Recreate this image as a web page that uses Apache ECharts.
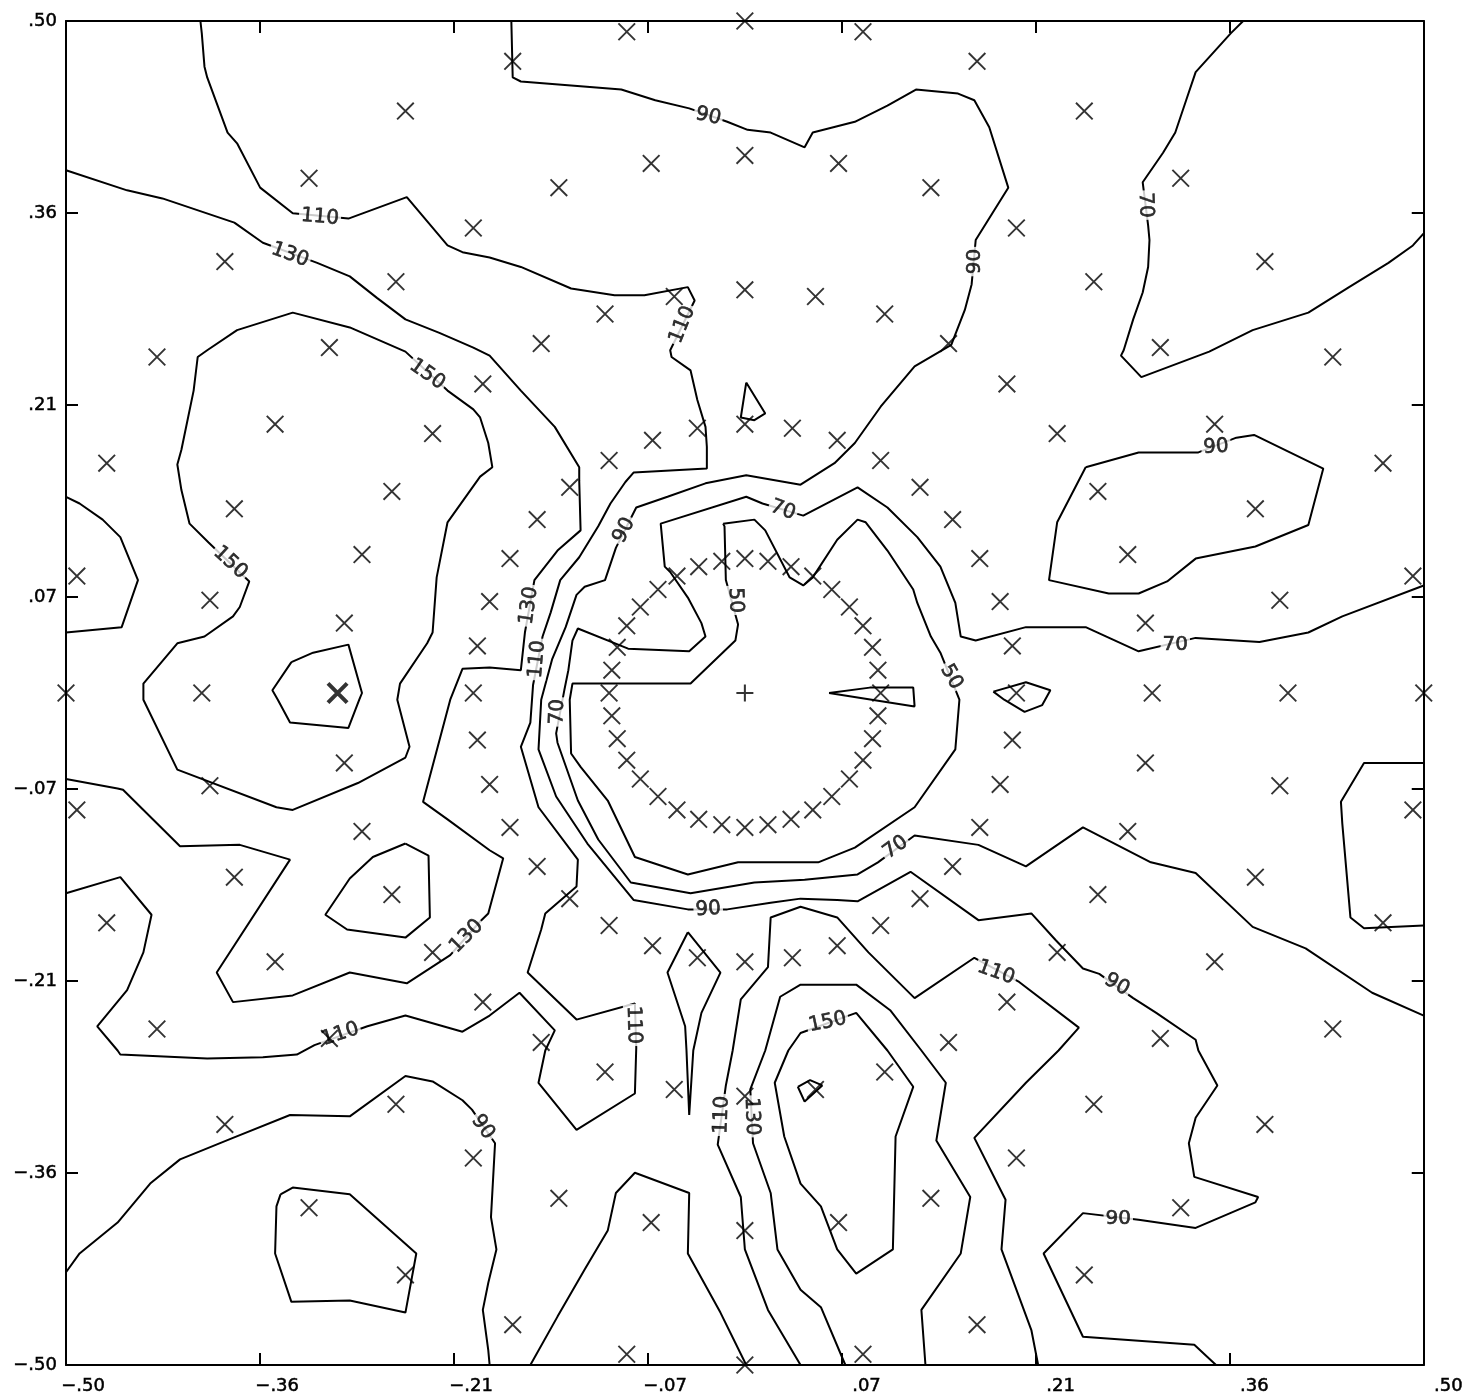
<!DOCTYPE html>
<html>
<head>
<meta charset="utf-8">
<script src="https://cdn.jsdelivr.net/npm/echarts@6/dist/echarts.min.js"></script>
<style>
  html, body { margin: 0; padding: 0; background: #fff; }
  #chart { width: 1466px; height: 1399px; }
</style>
</head>
<body>
<div id="chart"></div>
<script>
// axis ticks (steps of 1/7) and their printed labels
const tickValues = [-0.5, -0.3571, -0.2143, -0.0714, 0.0714, 0.2143, 0.3571, 0.5];
const tickLabels = ['\u2212.50', '\u2212.36', '\u2212.21', '\u2212.07', '.07', '.21', '.36', '.50'];

// sample points: five rings of 36 points, every 10 degrees
const ring1 = [[0.1,0],[0.098,0.017],[0.094,0.034],[0.087,0.05],[0.077,0.064],[0.064,0.077],[0.05,0.087],[0.034,0.094],[0.017,0.098],[0,0.1],[-0.017,0.098],[-0.034,0.094],[-0.05,0.087],[-0.064,0.077],[-0.077,0.064],[-0.087,0.05],[-0.094,0.034],[-0.098,0.017],[-0.1,0],[-0.098,-0.017],[-0.094,-0.034],[-0.087,-0.05],[-0.077,-0.064],[-0.064,-0.077],[-0.05,-0.087],[-0.034,-0.094],[-0.017,-0.098],[0,-0.1],[0.017,-0.098],[0.034,-0.094],[0.05,-0.087],[0.064,-0.077],[0.077,-0.064],[0.087,-0.05],[0.094,-0.034],[0.098,-0.017]];
const ring2 = [[0.2,0],[0.197,0.035],[0.188,0.068],[0.173,0.1],[0.153,0.129],[0.129,0.153],[0.1,0.173],[0.068,0.188],[0.035,0.197],[0,0.2],[-0.035,0.197],[-0.068,0.188],[-0.1,0.173],[-0.129,0.153],[-0.153,0.129],[-0.173,0.1],[-0.188,0.068],[-0.197,0.035],[-0.2,0],[-0.197,-0.035],[-0.188,-0.068],[-0.173,-0.1],[-0.153,-0.129],[-0.129,-0.153],[-0.1,-0.173],[-0.068,-0.188],[-0.035,-0.197],[0,-0.2],[0.035,-0.197],[0.068,-0.188],[0.1,-0.173],[0.129,-0.153],[0.153,-0.129],[0.173,-0.1],[0.188,-0.068],[0.197,-0.035]];
const ring3 = [[0.3,0],[0.295,0.052],[0.282,0.103],[0.26,0.15],[0.23,0.193],[0.193,0.23],[0.15,0.26],[0.103,0.282],[0.052,0.295],[0,0.3],[-0.052,0.295],[-0.103,0.282],[-0.15,0.26],[-0.193,0.23],[-0.23,0.193],[-0.26,0.15],[-0.282,0.103],[-0.295,0.052],[-0.295,-0.052],[-0.282,-0.103],[-0.26,-0.15],[-0.23,-0.193],[-0.193,-0.23],[-0.15,-0.26],[-0.103,-0.282],[-0.052,-0.295],[0,-0.3],[0.052,-0.295],[0.103,-0.282],[0.15,-0.26],[0.193,-0.23],[0.23,-0.193],[0.26,-0.15],[0.282,-0.103],[0.295,-0.052]];
const ring4 = [[0.4,0],[0.394,0.069],[0.376,0.137],[0.346,0.2],[0.306,0.257],[0.257,0.306],[0.2,0.346],[0.137,0.376],[0.069,0.394],[0,0.4],[-0.069,0.394],[-0.137,0.376],[-0.2,0.346],[-0.257,0.306],[-0.306,0.257],[-0.346,0.2],[-0.376,0.137],[-0.394,0.069],[-0.4,0],[-0.394,-0.069],[-0.376,-0.137],[-0.346,-0.2],[-0.306,-0.257],[-0.257,-0.306],[-0.2,-0.346],[-0.137,-0.376],[-0.069,-0.394],[0,-0.4],[0.069,-0.394],[0.137,-0.376],[0.2,-0.346],[0.257,-0.306],[0.306,-0.257],[0.346,-0.2],[0.376,-0.137],[0.394,-0.069]];
const ring5 = [[0.5,0],[0.492,0.087],[0.47,0.171],[0.433,0.25],[0.383,0.321],[0.321,0.383],[0.25,0.433],[0.171,0.47],[0.087,0.492],[0,0.5],[-0.087,0.492],[-0.171,0.47],[-0.25,0.433],[-0.321,0.383],[-0.383,0.321],[-0.433,0.25],[-0.47,0.171],[-0.492,0.087],[-0.5,0],[-0.492,-0.087],[-0.47,-0.171],[-0.433,-0.25],[-0.383,-0.321],[-0.321,-0.383],[-0.25,-0.433],[-0.171,-0.47],[-0.087,-0.492],[0,-0.5],[0.087,-0.492],[0.171,-0.47],[0.25,-0.433],[0.321,-0.383],[0.383,-0.321],[0.433,-0.25],[0.47,-0.171],[0.492,-0.087]];
const boldPoints = [[-0.3, 0]];
const centerPoint = [[0, 0]];

// contour lines (x, y)
const c110 = [[-0.401,0.5],[-0.4,0.491],[-0.398,0.466],[-0.396,0.458],[-0.381,0.417],[-0.374,0.409],[-0.357,0.376],[-0.333,0.357],[-0.292,0.353],[-0.249,0.369],[-0.219,0.333],[-0.208,0.328],[-0.188,0.324],[-0.165,0.317],[-0.128,0.301],[-0.096,0.296],[-0.074,0.296],[-0.042,0.302],[-0.037,0.292],[-0.055,0.255],[-0.054,0.25],[-0.04,0.24],[-0.035,0.218],[-0.029,0.198],[-0.028,0.183],[-0.028,0.167],[-0.082,0.164],[-0.088,0.157],[-0.099,0.141],[-0.108,0.124],[-0.122,0.101],[-0.136,0.084],[-0.143,0.06],[-0.149,0.042],[-0.156,0.006],[-0.158,-0.022],[-0.165,-0.04],[-0.152,-0.085],[-0.123,-0.124],[-0.124,-0.144],[-0.147,-0.164],[-0.15,-0.176],[-0.16,-0.208],[-0.124,-0.243],[-0.081,-0.231],[-0.08,-0.264],[-0.081,-0.298],[-0.124,-0.325],[-0.152,-0.29],[-0.147,-0.266],[-0.14,-0.251],[-0.166,-0.223],[-0.188,-0.24],[-0.208,-0.252],[-0.25,-0.24],[-0.278,-0.248],[-0.317,-0.262],[-0.33,-0.269],[-0.355,-0.271],[-0.396,-0.272],[-0.46,-0.269],[-0.462,-0.266],[-0.477,-0.248],[-0.455,-0.221],[-0.443,-0.193],[-0.437,-0.165],[-0.46,-0.137],[-0.5,-0.149]];
const c130 = [[-0.5,0.389],[-0.455,0.374],[-0.429,0.368],[-0.376,0.35],[-0.355,0.335],[-0.315,0.32],[-0.291,0.31],[-0.271,0.294],[-0.25,0.278],[-0.225,0.268],[-0.2,0.257],[-0.188,0.251],[-0.165,0.225],[-0.14,0.198],[-0.122,0.168],[-0.122,0.158],[-0.121,0.121],[-0.138,0.106],[-0.155,0.084],[-0.162,0.045],[-0.165,0.017],[-0.188,0.019],[-0.208,0.018],[-0.217,-0.005],[-0.237,-0.081],[-0.219,-0.094],[-0.188,-0.117],[-0.178,-0.123],[-0.189,-0.164],[-0.195,-0.17],[-0.217,-0.195],[-0.249,-0.216],[-0.291,-0.208],[-0.333,-0.225],[-0.377,-0.23],[-0.389,-0.208],[-0.335,-0.124],[-0.372,-0.113],[-0.416,-0.114],[-0.458,-0.072],[-0.462,-0.071],[-0.5,-0.064]];
const c150 = [[-0.396,0.255],[-0.374,0.27],[-0.333,0.283],[-0.291,0.272],[-0.25,0.254],[-0.219,0.225],[-0.2,0.211],[-0.195,0.205],[-0.189,0.186],[-0.186,0.168],[-0.195,0.161],[-0.219,0.127],[-0.227,0.086],[-0.23,0.045],[-0.234,0.037],[-0.254,0.007],[-0.256,-0.005],[-0.247,-0.04],[-0.25,-0.048],[-0.285,-0.067],[-0.333,-0.087],[-0.345,-0.085],[-0.418,-0.057],[-0.443,-0.005],[-0.443,0.007],[-0.418,0.037],[-0.398,0.042],[-0.377,0.057],[-0.372,0.064],[-0.365,0.083],[-0.395,0.112],[-0.409,0.126],[-0.415,0.151],[-0.418,0.17],[-0.415,0.181],[-0.406,0.225],[-0.403,0.25],[-0.396,0.255]];
const cBoldLoop = [[-0.334,0.023],[-0.318,0.03],[-0.292,0.036],[-0.282,0],[-0.284,-0.005],[-0.292,-0.026],[-0.335,-0.022],[-0.344,-0.005],[-0.348,0.002],[-0.334,0.023]];
const cLeftEdge = [[-0.5,0.146],[-0.49,0.141],[-0.473,0.129],[-0.46,0.116],[-0.447,0.084],[-0.459,0.049],[-0.5,0.045]];
const cLowLeftLoop = [[-0.25,-0.112],[-0.233,-0.121],[-0.232,-0.167],[-0.25,-0.182],[-0.293,-0.176],[-0.309,-0.165],[-0.291,-0.138],[-0.274,-0.122],[-0.25,-0.112]];
const c90BottomLeft = [[-0.5,-0.431],[-0.49,-0.417],[-0.462,-0.394],[-0.438,-0.365],[-0.416,-0.347],[-0.377,-0.331],[-0.335,-0.314],[-0.291,-0.315],[-0.25,-0.285],[-0.23,-0.289],[-0.208,-0.303],[-0.201,-0.31],[-0.184,-0.335],[-0.187,-0.39],[-0.183,-0.414],[-0.189,-0.439],[-0.193,-0.459],[-0.189,-0.489],[-0.188,-0.5]];
const cCornerLoop = [[-0.342,-0.373],[-0.333,-0.368],[-0.291,-0.373],[-0.242,-0.417],[-0.25,-0.461],[-0.291,-0.452],[-0.334,-0.453],[-0.346,-0.417],[-0.345,-0.382],[-0.342,-0.373]];
const cBottomArch = [[-0.158,-0.5],[-0.138,-0.464],[-0.118,-0.429],[-0.101,-0.4],[-0.095,-0.372],[-0.081,-0.357],[-0.041,-0.372],[-0.042,-0.417],[-0.018,-0.461],[0.001,-0.5]];
const cDagger = [[-0.042,-0.178],[-0.018,-0.208],[-0.032,-0.238],[-0.038,-0.266],[-0.041,-0.314],[-0.043,-0.266],[-0.044,-0.248],[-0.057,-0.208],[-0.042,-0.178]];
const c110Right = [[0.041,-0.5],[0.017,-0.459],[0,-0.414],[-0.003,-0.375],[-0.02,-0.336],[-0.014,-0.292],[-0.009,-0.266],[-0.003,-0.228],[0.017,-0.204],[0.019,-0.167],[0.041,-0.159],[0.068,-0.167],[0.091,-0.193],[0.125,-0.227],[0.169,-0.197],[0.202,-0.215],[0.246,-0.249],[0.231,-0.266],[0.207,-0.29],[0.169,-0.331],[0.192,-0.377],[0.189,-0.414],[0.211,-0.474],[0.216,-0.5]];
const c130Bottom = [[0.074,-0.5],[0.056,-0.457],[0.041,-0.444],[0.024,-0.414],[0.019,-0.372],[0.006,-0.335],[0.004,-0.295],[0.015,-0.266],[0.026,-0.226],[0.041,-0.217],[0.082,-0.217],[0.107,-0.236],[0.13,-0.266],[0.148,-0.29],[0.141,-0.333],[0.166,-0.375],[0.159,-0.417],[0.13,-0.459],[0.133,-0.5]];
const c150Bottom = [[0.032,-0.266],[0.022,-0.29],[0.029,-0.33],[0.041,-0.365],[0.056,-0.382],[0.068,-0.414],[0.082,-0.432],[0.109,-0.414],[0.111,-0.33],[0.124,-0.293],[0.105,-0.266],[0.082,-0.238],[0.041,-0.253],[0.032,-0.266]];
const cTinyLoop = [[0.039,-0.293],[0.048,-0.288],[0.057,-0.292],[0.044,-0.304],[0.039,-0.293]];
const c90 = [[-0.172,0.5],[-0.171,0.458],[-0.165,0.455],[-0.128,0.452],[-0.091,0.449],[-0.066,0.441],[-0.041,0.435],[-0.013,0.425],[0.002,0.419],[0.019,0.417],[0.044,0.406],[0.05,0.417],[0.081,0.425],[0.105,0.437],[0.126,0.449],[0.157,0.446],[0.169,0.441],[0.18,0.421],[0.194,0.376],[0.17,0.337],[0.167,0.304],[0.162,0.285],[0.152,0.259],[0.125,0.243],[0.1,0.213],[0.081,0.186],[0.066,0.171],[0.041,0.155],[0.001,0.162],[-0.029,0.156],[-0.057,0.146],[-0.08,0.138],[-0.095,0.108],[-0.103,0.084],[-0.118,0.079],[-0.124,0.073],[-0.132,0.049],[-0.142,0.025],[-0.15,-0.005],[-0.152,-0.042],[-0.139,-0.077],[-0.116,-0.112],[-0.082,-0.154],[-0.042,-0.161],[-0.013,-0.161],[0.019,-0.156],[0.041,-0.153],[0.068,-0.154],[0.083,-0.155],[0.122,-0.133],[0.172,-0.169],[0.211,-0.164],[0.229,-0.184],[0.249,-0.205],[0.261,-0.209],[0.286,-0.227],[0.303,-0.238],[0.332,-0.258],[0.334,-0.266],[0.348,-0.292],[0.332,-0.316],[0.327,-0.335],[0.331,-0.36],[0.378,-0.375],[0.376,-0.379],[0.332,-0.398],[0.29,-0.392],[0.249,-0.387],[0.22,-0.417],[0.249,-0.479],[0.331,-0.485],[0.347,-0.5]];
const c70 = [[0.5,0.08],[0.44,0.057],[0.415,0.045],[0.379,0.038],[0.332,0.041],[0.29,0.031],[0.251,0.049],[0.207,0.049],[0.17,0.039],[0.159,0.042],[0.155,0.067],[0.144,0.094],[0.127,0.116],[0.105,0.138],[0.083,0.153],[0.043,0.132],[0.013,0.141],[0.001,0.146],[-0.062,0.126],[-0.059,0.094],[-0.055,0.09],[-0.042,0.071],[-0.032,0.052],[-0.029,0.042],[-0.041,0.031],[-0.086,0.033],[-0.123,0.048],[-0.127,0.039],[-0.13,0.017],[-0.133,0.002],[-0.139,-0.03],[-0.138,-0.037],[-0.123,-0.08],[-0.108,-0.109],[-0.084,-0.141],[-0.04,-0.149],[0.007,-0.141],[0.044,-0.139],[0.083,-0.135],[0.098,-0.126],[0.125,-0.106],[0.172,-0.113],[0.207,-0.129],[0.249,-0.1],[0.299,-0.126],[0.332,-0.134],[0.374,-0.174],[0.413,-0.19],[0.462,-0.223],[0.5,-0.24]];
const c50 = [[-0.016,0.126],[0.007,0.129],[0.015,0.121],[0.033,0.086],[0.043,0.08],[0.05,0.086],[0.068,0.114],[0.083,0.129],[0.089,0.127],[0.105,0.106],[0.124,0.077],[0.127,0.067],[0.137,0.042],[0.144,0.03],[0.158,-0.005],[0.155,-0.042],[0.125,-0.085],[0.081,-0.115],[0.054,-0.126],[-0.005,-0.126],[-0.042,-0.135],[-0.081,-0.122],[-0.101,-0.08],[-0.121,-0.055],[-0.128,-0.045],[-0.129,-0.005],[-0.127,0.007],[-0.04,0.007],[-0.007,0.039],[-0.005,0.051],[-0.014,0.084],[-0.015,0.124],[-0.016,0.126]];
const cSpike = [[0.062,0],[0.092,0.004],[0.124,0.004],[0.125,-0.01],[0.062,0]];
const cDiamond = [[0.183,0.001],[0.207,0.008],[0.225,0.002],[0.219,-0.009],[0.206,-0.014],[0.191,-0.005],[0.183,0.001]];
const cTopSliver = [[0.001,0.231],[0.015,0.208],[0.007,0.203],[-0.003,0.205],[0.001,0.231]];
const c90RightLoop = [[0.251,0.168],[0.29,0.179],[0.334,0.179],[0.362,0.19],[0.375,0.192],[0.426,0.167],[0.415,0.125],[0.376,0.109],[0.332,0.1],[0.311,0.083],[0.29,0.074],[0.268,0.074],[0.224,0.084],[0.23,0.127],[0.251,0.168]];
const cRightEdge = [[0.5,-0.052],[0.456,-0.052],[0.439,-0.081],[0.44,-0.097],[0.446,-0.167],[0.456,-0.175],[0.5,-0.173]];
const c70TopRight = [[0.367,0.5],[0.358,0.491],[0.332,0.462],[0.325,0.441],[0.317,0.417],[0.308,0.402],[0.293,0.38],[0.297,0.348],[0.298,0.337],[0.297,0.317],[0.293,0.298],[0.286,0.278],[0.279,0.255],[0.277,0.251],[0.292,0.235],[0.342,0.254],[0.374,0.27],[0.415,0.283],[0.445,0.302],[0.474,0.32],[0.492,0.333],[0.5,0.342]];

const contours = [c110, c130, c150, cBoldLoop, cLeftEdge, cLowLeftLoop, c90BottomLeft, cCornerLoop,
  cBottomArch, cDagger, c110Right, c130Bottom, c150Bottom, cTinyLoop, c90, c70, c50, cSpike, cDiamond,
  cTopSliver, c90RightLoop, cRightEdge, c70TopRight];

// contour labels: text, x, y, rotation (degrees, counter-clockwise)
const labelText = ['110','130','150','150','90','110','90','70','90','70','90','130','110','50','50','70','70','70','90','110','90','150','110','110','130','130','110','90','90'];
const labelX = [-0.313,-0.335,-0.234,-0.379,-0.027,-0.046,0.169,0.295,0.347,0.028,-0.089,-0.159,-0.153,-0.007,0.152,0.317,-0.138,0.111,-0.027,0.185,0.274,0.061,-0.082,-0.017,0.005,-0.205,-0.298,-0.193,0.275];
const labelY = [0.354,0.326,0.237,0.097,0.429,0.274,0.321,0.363,0.183,0.136,0.121,0.065,0.025,0.069,0.012,0.036,-0.014,-0.115,-0.161,-0.208,-0.217,-0.245,-0.247,-0.314,-0.315,-0.181,-0.254,-0.323,-0.391];
const labelRot = [-5,-20,-35,-43,-12,68,90,-88,3,-20,63,82,85,-88,-60,0,88,35,3,-20,-30,12,-88,88,-88,45,18,-55,0];

const chart = echarts.init(document.getElementById('chart'));

const font = 'DejaVu Sans';
const labelFor = v => {
  let best = 0;
  tickValues.forEach((t, i) => { if (Math.abs(t - v) < Math.abs(tickValues[best] - v)) best = i; });
  return tickLabels[best];
};

const frameAxis = (extra) => Object.assign({
  type: 'value', min: -0.5, max: 0.5,
  splitLine: { show: false },
  axisLine: { show: true, onZero: false, lineStyle: { color: '#000', width: 2 } },
  axisTick: { show: true, inside: true, length: 12, customValues: tickValues, lineStyle: { color: '#000', width: 2 } },
  axisLabel: { show: false }
}, extra);

// filled glyphs so the strokes stay solid black
const xMark = 'path://M0,0.75L0.75,0L10,9.25L9.25,10Z M9.25,0L10,0.75L0.75,10L0,9.25Z';
const xMarkBold = 'path://M0,1.3L1.3,0L10,8.7L8.7,10Z M8.7,0L10,1.3L1.3,10L0,8.7Z';
const plusMark = 'path://M4.4,0L5.6,0L5.6,10L4.4,10Z M0,4.4L10,4.4L10,5.6L0,5.6Z';

const series = [];
contours.forEach(pts => {
  series.push({
    type: 'line', data: pts, showSymbol: false, symbol: 'none', silent: true, z: 2,
    lineStyle: { color: '#000', width: 2 }
  });
});

series.push({
  type: 'scatter', silent: true, z: 3, symbolSize: 1,
  itemStyle: { color: 'transparent' },
  data: labelText.map((t, i) => ({
    name: t, value: [labelX[i], labelY[i]], label: { rotate: labelRot[i] }
  })),
  label: {
    show: true, position: 'inside', formatter: '{b}', color: '#000',
    fontFamily: font, fontSize: 20, backgroundColor: '#fff', padding: [0, 2],
    textBorderColor: '#000', textBorderWidth: 0.6
  }
});

[ring1, ring2, ring3, ring4, ring5].forEach(r => {
  series.push({
    type: 'scatter', data: r, symbol: xMark, symbolSize: 18, silent: true, z: 5,
    itemStyle: { color: '#000', borderWidth: 0 }
  });
});
series.push({
  type: 'scatter', data: boldPoints, symbol: xMarkBold, symbolSize: 22, silent: true, z: 5,
  itemStyle: { color: '#000', borderWidth: 0 }
});
series.push({
  type: 'scatter', data: centerPoint, symbol: plusMark, symbolSize: 17, silent: true, z: 5,
  itemStyle: { color: '#000', borderWidth: 0 }
});

const option = {
  animation: false,
  backgroundColor: '#fff',
  grid: { left: 66, top: 21, right: 42, bottom: 34, containLabel: false },
  xAxis: [
    frameAxis({
      position: 'bottom',
      axisLabel: {
        show: true, customValues: tickValues, align: 'left', margin: 12,
        formatter: v => '{a|' + labelFor(v) + '}',
        rich: { a: { width: 39, align: 'right', fontFamily: font, fontSize: 18, color: '#000',
          textBorderColor: '#000', textBorderWidth: 0.5 } }
      }
    }),
    frameAxis({ position: 'top' })
  ],
  yAxis: [
    frameAxis({
      position: 'left',
      axisLabel: {
        show: true, customValues: tickValues, margin: 9,
        formatter: v => labelFor(v), fontFamily: font, fontSize: 18, color: '#000',
        textBorderColor: '#000', textBorderWidth: 0.5
      }
    }),
    frameAxis({ position: 'right' })
  ],
  series: series
};

chart.setOption(option);
</script>
</body>
</html>
